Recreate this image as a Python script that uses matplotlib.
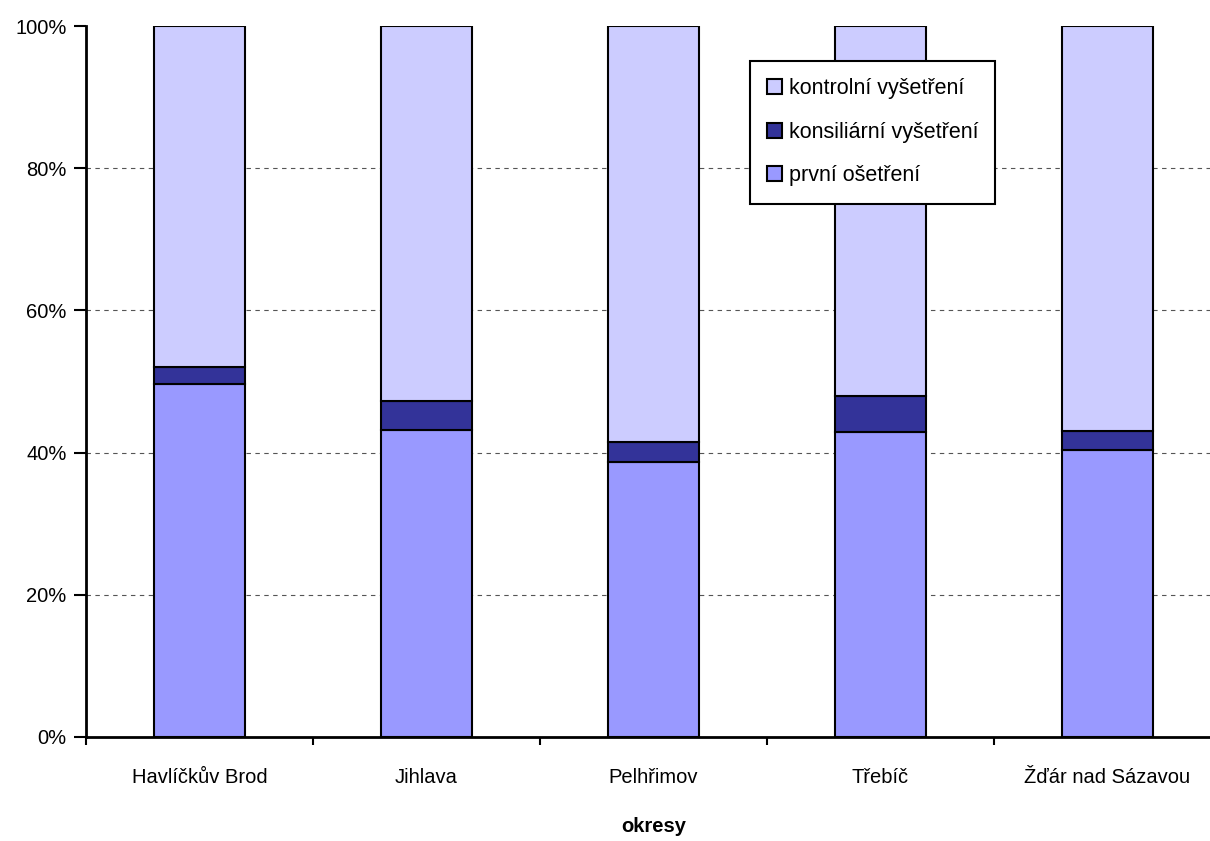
import matplotlib
matplotlib.use("Agg")
import matplotlib.pyplot as plt
import numpy as np
from matplotlib.ticker import PercentFormatter, FixedLocator

categories = ["Havlíčkův Brod", "Jihlava", "Pelhřimov", "Třebíč", "Žďár nad Sázavou"]
prvni = [49.6, 43.2, 38.7, 42.9, 40.4]
konsiliarni = [2.4, 4.1, 2.8, 5.1, 2.6]
kontrolni = [48.0, 52.7, 58.5, 52.0, 57.0]

plt.rcParams['font.family'] = ['Liberation Sans', 'DejaVu Sans']
FS = 14.5

fig = plt.figure(figsize=(12.1, 8.41), dpi=100)
ax = fig.add_axes([86/1210, (841-737)/841, 1135/1210, 711/841])

x = np.arange(len(categories))
w = 0.4
ec = dict(edgecolor='black', linewidth=1.5)
b1 = ax.bar(x, prvni, w, color='#9999FF', label='první ošetření', zorder=3, **ec)
b2 = ax.bar(x, konsiliarni, w, bottom=prvni, color='#333399', label='konsiliární vyšetření', zorder=3, **ec)
bottom2 = [a + b for a, b in zip(prvni, konsiliarni)]
b3 = ax.bar(x, kontrolni, w, bottom=bottom2, color='#CCCCFF', label='kontrolní vyšetření', zorder=3, **ec)

ax.set_xlim(-0.5, len(categories) - 0.5)
ax.set_ylim(0, 100)
ax.set_yticks([0, 20, 40, 60, 80, 100])
ax.yaxis.set_major_formatter(PercentFormatter(decimals=0))
for yv in [20, 40, 60, 80]:
    ax.axhline(yv, color='#555555', linestyle=(0, (4, 4)), linewidth=0.8, zorder=1)

ax.set_xticks(x)
ax.set_xticklabels(categories, fontsize=FS)
ax.xaxis.set_minor_locator(FixedLocator(np.arange(-0.5, len(categories), 1.0)))
ax.tick_params(axis='x', which='major', length=0, pad=22)
ax.tick_params(axis='x', which='minor', length=6, width=1.5, direction='out')
ax.tick_params(axis='y', length=9, width=1.5, direction='out', labelsize=FS, pad=5)

for s in ['top', 'right']:
    ax.spines[s].set_visible(False)
for s in ['left', 'bottom']:
    ax.spines[s].set_linewidth(2)
ax.set_xlabel('okresy', fontsize=FS, fontweight='bold', labelpad=22)

leg = ax.legend(handles=[b3, b2, b1], loc='upper left', bbox_to_anchor=((750-86)/1135, (737-61)/711),
                fontsize=15.5, frameon=True, fancybox=False, edgecolor='black', framealpha=1,
                handlelength=0.7, handleheight=0.7, handletextpad=0.3, labelspacing=1.05,
                borderpad=0.8, borderaxespad=0)
leg.get_frame().set_linewidth(1.5)

fig.savefig('out.png', dpi=100)
